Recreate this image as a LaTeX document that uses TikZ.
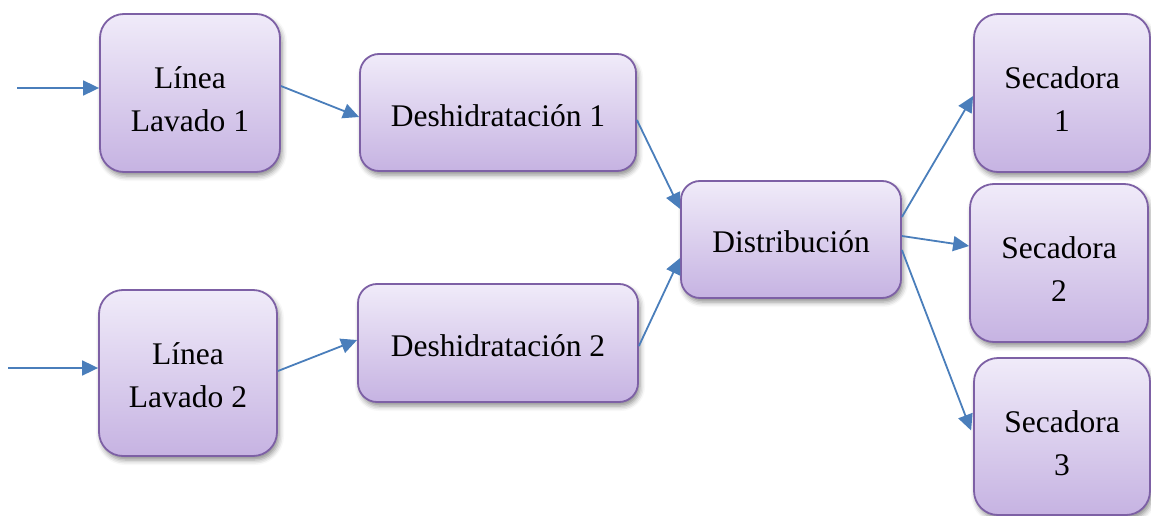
\documentclass[tikz,border=0pt]{standalone}
\usepackage{fontspec}
\setmainfont{Liberation Serif}
\usetikzlibrary{arrows.meta,shadows.blur}

\definecolor{boxtop}{HTML}{F0EBF9}
\definecolor{boxbottom}{HTML}{C6B3E2}
\definecolor{boxedge}{HTML}{7D60A5}
\definecolor{flow}{HTML}{4A7EBB}

\tikzset{
  procbox/.style={
    draw=boxedge, line width=1.8pt, rounded corners=24pt,
    top color=boxtop, bottom color=boxbottom,
    blur shadow={shadow xshift=2pt, shadow yshift=-4pt,
                 shadow blur radius=5pt, shadow opacity=45},
    inner sep=0pt, align=center, text height=77pt,
    font=\fontsize{31.5}{43}\selectfont
  },
  widebox/.style={procbox, rounded corners=19pt, text height=27.5pt},
  flowline/.style={draw=flow, line width=1.8pt,
    -{Triangle[length=16pt,width=15pt]}}
}

\begin{document}
\begin{tikzpicture}[x=1pt,y=-1pt]
  \useasboundingbox (0,0) rectangle (1151,516);

  % washing lines
  \node[procbox, minimum width=180pt, minimum height=158pt] (L1) at (190,93) {Línea\\Lavado 1};
  \node[procbox, minimum width=178pt, minimum height=166pt, text height=69pt] (L2) at (188,373) {Línea\\Lavado 2};

  % dewatering
  \node[widebox, minimum width=276pt, minimum height=117pt] (D1) at (498,112.5) {Deshidratación 1};
  \node[widebox, minimum width=280pt, minimum height=118pt] (D2) at (498,343) {Deshidratación 2};

  % distribution
  \node[widebox, minimum width=220pt, minimum height=117pt, text height=26.5pt] (Dist) at (791,239.5) {Distribución};

  % dryers
  \node[procbox, minimum width=176pt, minimum height=158pt] (S1) at (1062,93) {Secadora\\1};
  \node[procbox, minimum width=178pt, minimum height=158pt] (S2) at (1059,263) {Secadora\\2};
  \node[procbox, minimum width=176pt, minimum height=157pt, text height=78pt] (S3) at (1062,436.5) {Secadora\\3};

  % feed points
  \coordinate (in1) at (17,88);
  \coordinate (in2) at (8,368);

  % connectors
  \draw[flowline] (in1) -- ([yshift=5pt]L1.west);
  \draw[flowline] (in2) -- ([yshift=5pt]L2.west);
  \draw[flowline] ([yshift=7pt]L1.east) -- ([yshift=-4.5pt]D1.west);
  \draw[flowline] ([yshift=2pt]L2.east) -- ([yshift=3pt]D2.west);
  \draw[flowline] ([yshift=-7.5pt]D1.east) -- ([yshift=30.5pt]Dist.west);
  \draw[flowline] ([yshift=-3pt]D2.east) -- ([yshift=-18.5pt]Dist.west);
  \draw[flowline] ([yshift=22.5pt]Dist.east) -- ([yshift=-3pt]S1.west);
  \draw[flowline] ([yshift=3.5pt]Dist.east) -- ([yshift=17pt]S2.west);
  \draw[flowline] ([yshift=-10.5pt]Dist.east) -- ([xshift=-2pt,yshift=6pt]S3.west);
\end{tikzpicture}
\end{document}
